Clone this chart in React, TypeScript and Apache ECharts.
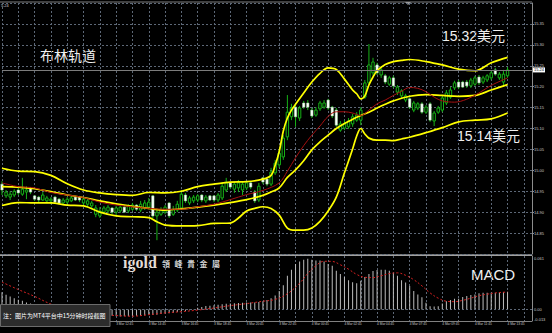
import { useEffect, useRef } from "react";
import * as echarts from "echarts";

// ---------- data ----------
const slotCount = 131; // 125 bars + empty chart-shift space
const categories = Array.from({ length: slotCount }, (_, i) => String(i));

const tickBars = [4, 12, 20, 28, 36, 44, 52, 60, 68, 76, 84, 92, 100, 108, 116, 124];
const tickLabels = [
  "3 Mar 06:45", "3 Mar 08:45", "3 Mar 10:45", "3 Mar 12:45", "3 Mar 14:45", "3 Mar 16:45",
  "3 Mar 18:45", "3 Mar 20:45", "3 Mar 22:45", "4 Mar 00:45", "4 Mar 02:45", "4 Mar 04:45",
  "4 Mar 07:45", "4 Mar 09:45", "4 Mar 11:45", "4 Mar 13:45",
];

const priceMin = 14.8;
const priceMax = 15.4;
const priceStep = 0.05;
const lastPrice = 15.24;

const macdMin = -0.013;
const macdMax = 0.061;
const macdLabels = [-0.013, 0, 0.061];

// [open, close, low, high]
const candles: number[][] = [
  [14.967, 14.953, 14.941, 14.974], [14.939, 14.948, 14.934, 14.953], [14.936, 14.943, 14.929, 14.95],
  [14.941, 14.95, 14.936, 14.955], [14.953, 14.946, 14.941, 14.958], [14.943, 14.955, 14.939, 14.982],
  [14.948, 14.953, 14.931, 14.962], [14.958, 14.948, 14.943, 14.96], [14.939, 14.931, 14.927, 14.941],
  [14.936, 14.929, 14.924, 14.939], [14.929, 14.941, 14.927, 14.948], [14.927, 14.934, 14.922, 14.939],
  [14.927, 14.931, 14.919, 14.936], [14.936, 14.924, 14.922, 14.939], [14.931, 14.922, 14.919, 14.934],
  [14.922, 14.929, 14.917, 14.934], [14.924, 14.931, 14.919, 14.936], [14.927, 14.934, 14.924, 14.939],
  [14.936, 14.929, 14.927, 14.939], [14.936, 14.929, 14.924, 14.939], [14.922, 14.931, 14.917, 14.936],
  [14.919, 14.927, 14.912, 14.934], [14.915, 14.922, 14.907, 14.927], [14.895, 14.91, 14.888, 14.917],
  [14.891, 14.903, 14.886, 14.912], [14.9, 14.91, 14.895, 14.915], [14.903, 14.912, 14.898, 14.917],
  [14.91, 14.9, 14.895, 14.912], [14.9, 14.91, 14.893, 14.915], [14.903, 14.912, 14.898, 14.919],
  [14.912, 14.9, 14.898, 14.915], [14.903, 14.915, 14.898, 14.919], [14.907, 14.917, 14.903, 14.922],
  [14.917, 14.907, 14.903, 14.919], [14.905, 14.919, 14.9, 14.927], [14.91, 14.922, 14.905, 14.929],
  [14.912, 14.924, 14.907, 14.934], [14.939, 14.891, 14.886, 14.941], [14.891, 14.9, 14.833, 14.91],
  [14.895, 14.907, 14.891, 14.912], [14.9, 14.912, 14.895, 14.917], [14.922, 14.891, 14.886, 14.924],
  [14.895, 14.907, 14.891, 14.915], [14.905, 14.919, 14.9, 14.927], [14.91, 14.943, 14.905, 14.953],
  [14.941, 14.927, 14.922, 14.946], [14.922, 14.934, 14.917, 14.939], [14.927, 14.936, 14.922, 14.941],
  [14.929, 14.939, 14.924, 14.943], [14.941, 14.929, 14.924, 14.943], [14.927, 14.936, 14.922, 14.941],
  [14.939, 14.929, 14.927, 14.941], [14.939, 14.929, 14.924, 14.941], [14.929, 14.941, 14.924, 14.946],
  [14.934, 14.962, 14.929, 14.972], [14.953, 14.97, 14.948, 14.982], [14.97, 14.96, 14.955, 14.972],
  [14.955, 14.967, 14.946, 14.972], [14.958, 14.97, 14.948, 14.977], [14.953, 14.967, 14.941, 14.974],
  [14.958, 14.97, 14.953, 14.974], [14.97, 14.96, 14.955, 14.972], [14.948, 14.927, 14.922, 14.953],
  [14.929, 14.962, 14.924, 14.97], [14.982, 14.972, 14.967, 14.984], [14.979, 14.967, 14.962, 14.982],
  [14.967, 14.996, 14.962, 15.006], [14.994, 15.017, 14.989, 15.025], [15.013, 15.041, 15.006, 15.049],
  [15.032, 15.077, 15.025, 15.084], [15.08, 15.139, 15.072, 15.18], [15.128, 15.149, 15.12, 15.159],
  [15.151, 15.128, 15.104, 15.156], [15.125, 15.149, 15.118, 15.154], [15.161, 15.151, 15.147, 15.166],
  [15.161, 15.151, 15.144, 15.168], [15.144, 15.13, 15.125, 15.149], [15.132, 15.144, 15.128, 15.151],
  [15.147, 15.161, 15.142, 15.166], [15.151, 15.161, 15.147, 15.168], [15.168, 15.149, 15.144, 15.171],
  [15.151, 15.13, 15.125, 15.154], [15.144, 15.108, 15.104, 15.149], [15.096, 15.111, 15.092, 15.118],
  [15.101, 15.111, 15.096, 15.12], [15.104, 15.118, 15.099, 15.125], [15.111, 15.128, 15.104, 15.135],
  [15.12, 15.132, 15.116, 15.139], [15.12, 15.144, 15.108, 15.151], [15.175, 15.209, 15.171, 15.216],
  [15.209, 15.252, 15.204, 15.302], [15.233, 15.259, 15.226, 15.269], [15.252, 15.233, 15.228, 15.257],
  [15.228, 15.24, 15.221, 15.247], [15.226, 15.211, 15.206, 15.23], [15.206, 15.221, 15.202, 15.226],
  [15.221, 15.202, 15.197, 15.226], [15.187, 15.199, 15.18, 15.204], [15.178, 15.19, 15.171, 15.194],
  [15.168, 15.178, 15.163, 15.183], [15.171, 15.151, 15.147, 15.175], [15.144, 15.161, 15.139, 15.166],
  [15.149, 15.159, 15.144, 15.163], [15.159, 15.139, 15.135, 15.163], [15.139, 15.151, 15.135, 15.156],
  [15.159, 15.12, 15.116, 15.163], [15.118, 15.137, 15.106, 15.142], [15.139, 15.149, 15.135, 15.154],
  [15.144, 15.173, 15.139, 15.178], [15.161, 15.185, 15.156, 15.192], [15.175, 15.192, 15.171, 15.199],
  [15.197, 15.209, 15.192, 15.214], [15.211, 15.199, 15.194, 15.216], [15.211, 15.199, 15.197, 15.214],
  [15.211, 15.202, 15.197, 15.216], [15.202, 15.216, 15.197, 15.221], [15.206, 15.221, 15.202, 15.226],
  [15.223, 15.209, 15.204, 15.228], [15.211, 15.221, 15.206, 15.226], [15.216, 15.226, 15.211, 15.23],
  [15.221, 15.233, 15.216, 15.238], [15.24, 15.23, 15.226, 15.245], [15.221, 15.23, 15.216, 15.235],
  [15.211, 15.23, 15.202, 15.24], [15.226, 15.24, 15.221, 15.247],
];

// Bollinger bands and red moving average, read at [bar, price]
const bbUpper: number[][] = [
  [0, 15.005], [4, 14.998], [8, 14.997], [12, 14.988], [16, 14.968], [20, 14.953], [24, 14.946],
  [28, 14.942], [32, 14.94], [36, 14.947], [40, 14.946], [44, 14.95], [48, 14.961], [52, 14.967],
  [56, 14.972], [60, 14.973], [64, 14.979], [66, 14.988], [67, 15.012], [68, 15.045], [69, 15.094],
  [70, 15.125], [71, 15.144], [72, 15.158], [74, 15.185], [76, 15.211], [78, 15.232], [80, 15.245],
  [82, 15.241], [84, 15.218], [86, 15.192], [87, 15.183], [88, 15.171], [89, 15.178], [90, 15.204],
  [91, 15.223], [92, 15.238], [94, 15.253], [96, 15.26], [98, 15.263], [100, 15.265], [104, 15.26],
  [108, 15.252], [112, 15.242], [116, 15.238], [120, 15.257], [124, 15.27],
];
const bbMiddle: number[][] = [
  [0, 14.961], [4, 14.96], [8, 14.956], [12, 14.949], [16, 14.941], [20, 14.935], [24, 14.927],
  [28, 14.92], [32, 14.914], [36, 14.909], [40, 14.905], [44, 14.908], [48, 14.912], [52, 14.917],
  [56, 14.923], [60, 14.93], [64, 14.94], [66, 14.948], [68, 14.958], [70, 14.983], [72, 15.001],
  [74, 15.023], [76, 15.049], [78, 15.068], [80, 15.084], [82, 15.1], [84, 15.112], [86, 15.122],
  [88, 15.131], [90, 15.139], [92, 15.149], [94, 15.158], [96, 15.166], [100, 15.177], [104, 15.181],
  [108, 15.179], [112, 15.177], [116, 15.179], [120, 15.192], [124, 15.205],
];
const bbLower: number[][] = [
  [0, 14.916], [4, 14.923], [8, 14.922], [12, 14.922], [16, 14.917], [20, 14.915], [24, 14.9],
  [28, 14.891], [32, 14.889], [36, 14.887], [38, 14.877], [40, 14.869], [44, 14.867], [48, 14.868],
  [52, 14.873], [56, 14.874], [58, 14.886], [60, 14.903], [62, 14.909], [64, 14.913], [66, 14.909],
  [68, 14.893], [70, 14.862], [72, 14.857], [74, 14.857], [76, 14.862], [78, 14.878], [80, 14.903],
  [82, 14.936], [84, 14.994], [86, 15.051], [87, 15.082], [88, 15.1], [89, 15.087], [90, 15.077],
  [92, 15.072], [94, 15.072], [96, 15.071], [98, 15.075], [100, 15.079], [104, 15.09], [108, 15.102],
  [112, 15.116], [116, 15.12], [120, 15.123], [124, 15.137],
];
const redMa: number[][] = [
  [0, 14.97], [4, 14.961], [8, 14.958], [12, 14.947], [16, 14.941], [20, 14.935], [24, 14.924],
  [28, 14.917], [32, 14.913], [36, 14.909], [40, 14.907], [44, 14.907], [48, 14.913], [52, 14.919],
  [56, 14.93], [60, 14.942], [64, 14.952], [68, 14.97], [70, 14.998], [72, 15.03], [74, 15.059],
  [76, 15.084], [78, 15.106], [80, 15.129], [82, 15.14], [84, 15.14], [86, 15.137], [88, 15.131],
  [90, 15.144], [92, 15.159], [94, 15.168], [96, 15.179], [98, 15.189], [100, 15.198], [102, 15.196],
  [104, 15.188], [106, 15.175], [108, 15.166], [111, 15.163], [114, 15.17], [117, 15.185],
  [120, 15.203], [124, 15.221],
];

// MACD main (histogram) per bar and signal line
const macdHist: number[] = [
  0.0197, 0.017, 0.015, 0.013, 0.0112, 0.01, 0.0081, 0.0069, 0.0062, 0.0058,
  0.0054, 0.005, 0.0046, 0.0042, 0.0037, 0.0031, 0.0025, 0.0018, 0.001, 0.0002,
  -0.0008, -0.0018, -0.0028, -0.0038, -0.0048, -0.0058, -0.0065, -0.007,
  -0.0075, -0.0078, -0.0077, -0.0076, -0.0074, -0.007, -0.0068, -0.0066, -0.006, -0.0062,
  -0.0058, -0.005, -0.0046, -0.0042, -0.0035, -0.0028, -0.002, -0.0015, -0.0008, 0.0005,
  0.002, 0.003, 0.004, 0.0045, 0.005, 0.0055, 0.006, 0.0065, 0.007, 0.0072,
  0.0075, 0.0078, 0.008, 0.0082, 0.008, 0.0085, 0.0095, 0.011, 0.013, 0.016,
  0.0212, 0.0277, 0.0385, 0.0454, 0.052, 0.0547, 0.0566, 0.0578, 0.0566, 0.0558,
  0.0558, 0.0547, 0.052, 0.05, 0.0443, 0.0405, 0.037, 0.0335, 0.0312, 0.03,
  0.0327, 0.037, 0.0405, 0.0439, 0.0451, 0.0454, 0.0454, 0.0443, 0.0416, 0.0385,
  0.0335, 0.0309, 0.0269, 0.0212, 0.0173, 0.0139, 0.0077, 0.0038, 0.0035, 0.0038,
  0.0069, 0.0096, 0.0108, 0.0124, 0.0124, 0.0142, 0.0154, 0.0165, 0.0173, 0.0185,
  0.0193, 0.0193, 0.0193, 0.0193, 0.0194, 0.02, 0.0202,
];
const macdSignal: number[][] = [
  [0, 0.0312], [4, 0.0228], [8, 0.015], [12, 0.0063], [16, 0.001], [20, -0.003], [24, -0.0055],
  [28, -0.0068], [32, -0.0075], [36, -0.0058], [40, -0.0038], [44, -0.0024], [48, -0.0006],
  [52, 0.0018], [56, 0.0045], [60, 0.0068], [64, 0.0095], [67, 0.0116], [70, 0.018], [73, 0.03],
  [75, 0.041], [77, 0.05], [79, 0.055], [81, 0.0548], [83, 0.051], [85, 0.046], [87, 0.04],
  [89, 0.0368], [91, 0.0364], [93, 0.0385], [95, 0.041], [97, 0.0418], [99, 0.039], [101, 0.034],
  [103, 0.027], [105, 0.019], [107, 0.013], [109, 0.0095], [111, 0.009], [113, 0.0105], [115, 0.013],
  [117, 0.0158], [119, 0.0175], [121, 0.019], [124, 0.02],
];

// ---------- styles ----------
const GREEN = "#16b016";
const YELLOW = "#ffff00";
const GRID = "#5d6877";
const AXIS = "#8c8c8c";
const LABEL = "#c8c8c8";
const MIXED_FONT = "'Liberation Sans', 'Noto Sans CJK SC', sans-serif";

export default function App() {
  const ref = useRef<HTMLDivElement>(null);

  useEffect(() => {
    if (!ref.current) return;
    const chart = echarts.init(ref.current, undefined, { renderer: "svg" });

    const candleData = candles.map((c, i) => [i, c[0], c[1], c[2], c[3]]);
    const tickMap: Record<number, string> = {};
    tickBars.forEach((b, k) => (tickMap[b] = tickLabels[k]));

    const dashed = { color: GRID, type: [2, 2] as any, width: 1 };

    const option: any = {
      animation: false,
      backgroundColor: "#000000",
      textStyle: { fontFamily: "Liberation Sans" },
      grid: [
        { left: 2, top: 3, width: 530, height: 251 },
        { left: 2, top: 256, width: 530, height: 65 },
      ],
      xAxis: [
        {
          type: "category",
          gridIndex: 0,
          data: categories,
          boundaryGap: false,
          axisLine: { show: false },
          axisTick: { show: false },
          axisLabel: { show: false },
          splitLine: { show: true, interval: 3, lineStyle: dashed },
        },
        {
          type: "category",
          gridIndex: 1,
          data: categories,
          boundaryGap: false,
          axisLine: { show: false },
          axisTick: { show: false },
          axisLabel: {
            show: true,
            interval: (idx: number) => tickMap[idx] !== undefined,
            formatter: (_v: string, idx: number) => tickMap[idx] ?? "",
            align: "left",
            fontSize: 3.2,
            color: LABEL,
            margin: 1.5,
          },
          splitLine: { show: true, interval: 3, lineStyle: dashed },
        },
      ],
      yAxis: [
        {
          type: "value",
          gridIndex: 0,
          position: "right",
          min: priceMin,
          max: priceMax,
          interval: priceStep,
          axisLine: { show: true, lineStyle: { color: AXIS, width: 1 } },
          axisTick: { show: true, length: 2, lineStyle: { color: AXIS } },
          axisLabel: {
            fontSize: 4,
            color: LABEL,
            margin: 2,
            showMinLabel: false,
            showMaxLabel: false,
            formatter: (v: number) => v.toFixed(2),
          },
          splitLine: { show: true, lineStyle: dashed },
        },
        {
          type: "value",
          gridIndex: 1,
          position: "right",
          min: macdMin,
          max: macdMax,
          axisLine: { show: true, lineStyle: { color: AXIS, width: 1 } },
          axisTick: { show: false },
          axisLabel: {
            customValues: macdLabels,
            fontSize: 4,
            color: LABEL,
            margin: 2,
            verticalAlignMaxLabel: "top",
            verticalAlignMinLabel: "bottom",
            formatter: (v: number) => (v === 0 ? "0.00" : String(v)),
          },
          splitLine: { show: false },
        },
      ],
      series: [
        {
          type: "custom",
          name: "candles",
          xAxisIndex: 0,
          yAxisIndex: 0,
          data: candleData,
          encode: { x: 0, y: [1, 2, 3, 4] },
          renderItem: (_p: any, api: any) => {
            const i = api.value(0);
            const o = api.value(1);
            const c = api.value(2);
            const l = api.value(3);
            const h = api.value(4);
            const po = api.coord([i, o]);
            const pc = api.coord([i, c]);
            const pl = api.coord([i, l]);
            const ph = api.coord([i, h]);
            const x = po[0];
            const bull = c >= o;
            const top = Math.min(po[1], pc[1]);
            const bh = Math.max(1, Math.abs(po[1] - pc[1]));
            return {
              type: "group",
              children: [
                {
                  type: "line",
                  shape: { x1: x, y1: ph[1], x2: x, y2: pl[1] },
                  style: { stroke: GREEN, lineWidth: 1 },
                },
                {
                  type: "rect",
                  shape: { x: x - 1.2, y: top, width: 2.4, height: bh },
                  style: bull
                    ? { fill: "#000000", stroke: GREEN, lineWidth: 1 }
                    : { fill: "#ffffff", stroke: "#9fe09f", lineWidth: 0.5 },
                },
              ],
            };
          },
          z: 2,
        },
        {
          type: "line",
          name: "upper",
          xAxisIndex: 0,
          yAxisIndex: 0,
          data: bbUpper,
          smooth: 0.35,
          showSymbol: false,
          lineStyle: { color: YELLOW, width: 1.7 },
          z: 3,
        },
        {
          type: "line",
          name: "middle",
          xAxisIndex: 0,
          yAxisIndex: 0,
          data: bbMiddle,
          smooth: 0.35,
          showSymbol: false,
          lineStyle: { color: YELLOW, width: 1.7 },
          z: 3,
          markLine: {
            silent: true,
            symbol: "none",
            lineStyle: { color: "#7c7c7c", type: "solid", width: 1 },
            label: {
              show: true,
              position: "end",
              formatter: lastPrice.toFixed(2),
              backgroundColor: "#ffffff",
              color: "#000000",
              fontSize: 4,
              padding: [0.5, 1],
              distance: 1,
            },
            data: [{ yAxis: lastPrice }],
          },
        },
        {
          type: "line",
          name: "lower",
          xAxisIndex: 0,
          yAxisIndex: 0,
          data: bbLower,
          smooth: 0.35,
          showSymbol: false,
          lineStyle: { color: YELLOW, width: 1.7 },
          z: 3,
        },
        {
          type: "line",
          name: "ma",
          xAxisIndex: 0,
          yAxisIndex: 0,
          data: redMa,
          smooth: 0.35,
          showSymbol: false,
          lineStyle: { color: "#a51010", width: 1 },
          z: 3,
        },
        {
          type: "bar",
          name: "macd",
          xAxisIndex: 1,
          yAxisIndex: 1,
          data: macdHist,
          barWidth: 1,
          itemStyle: { color: "#bdbdbd" },
          markLine: {
            silent: true,
            symbol: "none",
            label: { show: false },
            lineStyle: { color: GRID, type: [2, 2], width: 1 },
            data: [{ yAxis: 0 }],
          },
        },
        {
          type: "line",
          name: "signal",
          xAxisIndex: 1,
          yAxisIndex: 1,
          data: macdSignal,
          smooth: 0.4,
          showSymbol: false,
          lineStyle: { color: "#d42020", width: 1, type: [2, 2] },
        },
      ],
      graphic: [
        { type: "line", shape: { x1: 0, y1: 2, x2: 532, y2: 2 }, style: { stroke: "#808080", lineWidth: 1 } },
        { type: "polygon", shape: { points: [[405, 2], [411, 2], [408, 5]] }, style: { fill: "#9a9a9a" } },
        { type: "rect", shape: { x: 0, y: 254.3, width: 532, height: 1.8 }, style: { fill: "#a0a0a0" } },
        { type: "line", shape: { x1: 0, y1: 321.5, x2: 532, y2: 321.5 }, style: { stroke: "#808080", lineWidth: 1 } },
        { type: "text", left: 1, top: 3, style: { text: "5.24", fill: "#d0d0d0", fontSize: 4, fontFamily: "Liberation Sans" } },
        { type: "text", left: 40, top: 48, style: { text: "布林轨道", fill: "#f0f0f0", fontSize: 14, fontFamily: "Noto Sans CJK SC" } },
        { type: "text", left: 442, top: 29, style: { text: "15.32美元", fill: "#f0f0f0", fontSize: 14, fontFamily: MIXED_FONT } },
        { type: "text", left: 457, top: 129, style: { text: "15.14美元", fill: "#f0f0f0", fontSize: 14, fontFamily: MIXED_FONT } },
        { type: "text", left: 471, top: 267, style: { text: "MACD", fill: "#f0f0f0", fontSize: 15, fontFamily: "Liberation Sans" } },
        { type: "text", left: 123, top: 254, style: { text: "igold", fill: "#e4ddd6", fontSize: 16, fontWeight: "bold", fontFamily: "Liberation Serif" } },
        { type: "text", left: 162, top: 259, style: { text: "領", fill: "#d6d6d6", fontSize: 8, fontWeight: "bold", fontFamily: "Noto Sans CJK TC" } },
        { type: "text", left: 174.5, top: 259, style: { text: "峰", fill: "#d6d6d6", fontSize: 8, fontWeight: "bold", fontFamily: "Noto Sans CJK TC" } },
        { type: "text", left: 187, top: 259, style: { text: "貴", fill: "#d6d6d6", fontSize: 8, fontWeight: "bold", fontFamily: "Noto Sans CJK TC" } },
        { type: "text", left: 199.5, top: 259, style: { text: "金", fill: "#d6d6d6", fontSize: 8, fontWeight: "bold", fontFamily: "Noto Sans CJK TC" } },
        { type: "text", left: 212, top: 259, style: { text: "屬", fill: "#d6d6d6", fontSize: 8, fontWeight: "bold", fontFamily: "Noto Sans CJK TC" } },
        {
          type: "rect",
          shape: { x: 0.5, y: 304.5, width: 109.5, height: 22 },
          style: { fill: "#2c2c2c", stroke: "#6c6c6c", lineWidth: 1 },
          z: 100,
        },
        {
          type: "text",
          left: 3,
          top: 312,
          z: 101,
          style: { text: "注：图片为MT4平台中15分钟时段截图", fill: "#ffffff", fontSize: 6, fontFamily: "Noto Sans CJK SC" },
        },
      ],
    };

    chart.setOption(option);
    return () => chart.dispose();
  }, []);

  return (
    <div
      ref={ref}
      style={{ position: "fixed", left: 0, top: 0, width: 552, height: 333, background: "#000" }}
    />
  );
}
